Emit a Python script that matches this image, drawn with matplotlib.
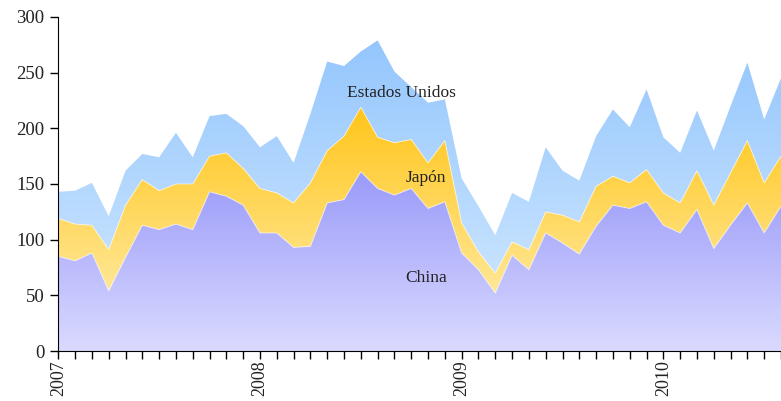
import numpy as np
import matplotlib
matplotlib.use("Agg")
import matplotlib.pyplot as plt
from matplotlib.colors import LinearSegmentedColormap
from matplotlib.patches import PathPatch

# monthly values, Jan 2007 onwards
months = np.arange(44)
china = [85, 81, 88, 54, 84, 113, 109, 114, 109, 143, 139, 131,
         106, 106, 93, 94, 133, 136, 161, 146, 140, 146, 128, 134,
         88, 73, 52, 86, 73, 106, 97, 87, 112, 131, 128, 134,
         113, 106, 127, 92, 113, 133, 106, 130]
japon = [34, 33, 25, 37, 47, 41, 35, 36, 41, 32, 39, 33,
         40, 36, 40, 57, 47, 57, 58, 46, 47, 44, 41, 55,
         27, 16, 18, 12, 18, 19, 25, 29, 36, 26, 23, 29,
         29, 27, 35, 39, 47, 56, 45, 45]
eeuu = [24, 30, 38, 30, 31, 23, 30, 46, 24, 36, 35, 38,
        37, 51, 36, 62, 80, 63, 50, 87, 64, 47, 54, 37,
        40, 41, 34, 44, 43, 58, 40, 37, 45, 60, 50, 72,
        50, 45, 54, 49, 60, 70, 57, 70]
year_labels = ["2007", "2008", "2009", "2010"]
series_names = ["China", "Japón", "Estados Unidos"]

plt.rcParams['font.family'] = ['Liberation Serif', 'DejaVu Serif']

fig = plt.figure(figsize=(7.81, 4.01), dpi=100)
ax = fig.add_axes([58.3 / 781, 50 / 401, 1 - 58.3 / 781, 334 / 401])

c1 = np.array(china, dtype=float)
c2 = c1 + np.array(japon)
c3 = c2 + np.array(eeuu)


def grad_fill(x, lo, hi, c_top, c_bot):
    poly = ax.fill_between(x, lo, hi, facecolor='none', edgecolor='none')
    path = poly.get_paths()[0]
    patch = PathPatch(path, transform=ax.transData, facecolor='none', edgecolor='none')
    ax.add_patch(patch)
    cmap = LinearSegmentedColormap.from_list('g', [c_bot, c_top])
    grad = np.linspace(0, 1, 256).reshape(-1, 1)
    im = ax.imshow(grad, extent=[x[0], x[-1], 0, hi.max()], origin='lower',
                   aspect='auto', cmap=cmap, interpolation='bilinear')
    im.set_clip_path(patch)


grad_fill(months, c2, c3, '#94c6fd', '#d8ecff')
grad_fill(months, c1, c2, '#ffc519', '#fff2bd')
grad_fill(months, np.zeros_like(c1), c1, '#9a9afa', '#dadaff')
ax.plot(months, c1, color='white', lw=0.7, alpha=0.6)
ax.plot(months, c2, color='white', lw=0.7, alpha=0.6)

ax.set_xlim(0, 42.28)
ax.set_ylim(0, 300)
ax.set_yticks(np.arange(0, 301, 50))
ax.set_xticks(months)
ax.set_xticklabels(["" for m in months])
for k, lab in enumerate(year_labels):
    ax.text(12 * k, -8, lab, rotation=90, ha='center', va='top', fontsize=13,
            color='#222222')

for s in ['top', 'right']:
    ax.spines[s].set_visible(False)
ax.tick_params(axis='both', length=6, width=1, direction='out', labelsize=13.5,
               colors='black', labelcolor='#222222')
ax.tick_params(axis='y', pad=4)

ax.text(20.4, 232, series_names[2], ha='center', va='center', fontsize=12.5, color='#222222')
ax.text(21.9, 155, series_names[1], ha='center', va='center', fontsize=12.5, color='#222222')
ax.text(21.9, 66, series_names[0], ha='center', va='center', fontsize=12.5, color='#222222')

fig.savefig("out.png", dpi=100)
